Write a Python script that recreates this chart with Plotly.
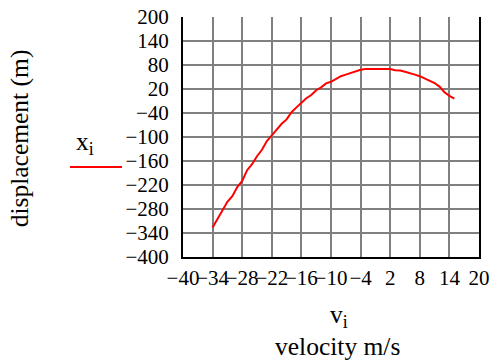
import plotly.graph_objects as go

velocity = [-34, -33, -32, -31, -30, -29, -28, -27, -26, -25, -24, -23, -22, -21, -20,
            -19, -18, -17, -16, -15, -14, -13, -12, -11, -10, -9, -8, -7, -6, -5, -4,
            -3, -2, -1, 0, 1, 2, 3, 4, 5, 6, 7, 8, 9, 10, 11, 12, 13, 14, 15]
displacement = [-326, -305, -284, -262, -248, -225, -210, -183, -168, -148, -132, -110, -96, -80, -67,
                -56, -38, -26, -14, -3, 5, 17, 24, 34, 38, 46, 52, 56, 60, 64, 68,
                70, 70, 70, 70, 70, 70, 67, 66, 63, 60, 56, 52, 47, 40, 35, 26, 12, 3, -4]

x_ticks = [-40, -34, -28, -22, -16, -10, -4, 2, 8, 14, 20]
y_ticks = [-400, -340, -280, -220, -160, -100, -40, 20, 80, 140, 200]

def lab(v):
    return ("\u2212" + str(-v)) if v < 0 else str(v)

FONT = "Liberation Serif"
FS = 21
TS = 25.5
fig = go.Figure()
fig.add_trace(go.Scatter(x=velocity, y=displacement, mode="lines",
                         line=dict(color="#ff0000", width=2), showlegend=False))

fig.update_layout(
    width=497, height=360,
    margin=dict(l=183, r=18, t=17, b=103, autoexpand=False),
    paper_bgcolor="white", plot_bgcolor="white",
    font=dict(family=FONT, size=FS, color="black"),
    xaxis=dict(range=[-40, 20], tickmode="array", tickvals=x_ticks,
               ticktext=[lab(v) for v in x_ticks], tickangle=0, automargin=False,
               showgrid=True, gridcolor="#808080", gridwidth=2,
               showline=True, linecolor="black", linewidth=2, mirror=False,
               zeroline=False, ticks="", ticklabelstandoff=1,
               tickfont=dict(family=FONT, size=FS)),
    yaxis=dict(range=[-400, 200], tickmode="array", tickvals=y_ticks,
               ticktext=[lab(v) for v in y_ticks], automargin=False,
               showgrid=True, gridcolor="#808080", gridwidth=2,
               showline=True, linecolor="black", linewidth=2, mirror=True,
               zeroline=False, ticks="", ticklabelstandoff=8,
               tickfont=dict(family=FONT, size=FS)),
    annotations=[
        dict(text="v<sub>i</sub>", xref="paper", yref="paper", x=0.527, y=-0.245,
             showarrow=False, xanchor="center", yanchor="middle",
             font=dict(family=FONT, size=TS)),
        dict(text="velocity m/s", xref="paper", yref="paper", x=0.522, y=-0.372,
             showarrow=False, xanchor="center", yanchor="middle",
             font=dict(family=FONT, size=TS)),
        dict(text="displacement (m)", xref="paper", yref="paper", x=-0.551, y=0.494,
             showarrow=False, textangle=-90, xanchor="center", yanchor="middle",
             font=dict(family=FONT, size=TS)),
        dict(text="x<sub>i</sub>", xref="paper", yref="paper", x=-0.331, y=0.475,
             showarrow=False, xanchor="center", yanchor="middle",
             font=dict(family=FONT, size=TS)),
    ],
    shapes=[
        dict(type="line", xref="paper", yref="paper", x0=-0.382, x1=-0.206, y0=0.375, y1=0.375,
             line=dict(color="#ff0000", width=2)),
    ],
)

fig.write_html("out.html")
